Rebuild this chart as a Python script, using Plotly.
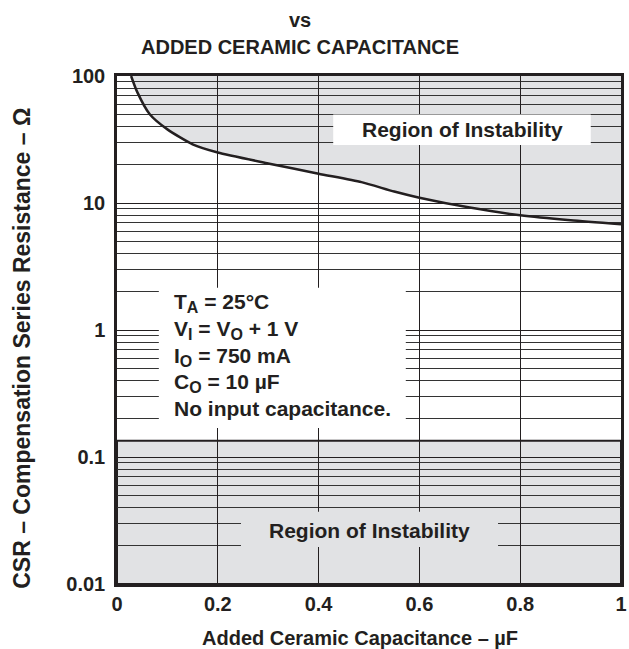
import plotly.graph_objects as go

# ---- data ----
cap_uF = [0.028, 0.04, 0.065, 0.1, 0.15, 0.2, 0.3, 0.4, 0.485, 0.55, 0.6, 0.7, 0.8, 0.9, 1.0]
csr_ohm = [100, 75, 50, 38, 29, 25, 20.5, 17, 14.6, 12.3, 11.0, 9.2, 8.0, 7.3, 6.8]
lower_limit_ohm = 0.134
y_range = [0.01, 100]
x_range = [0, 1]
x_ticks = [0, 0.2, 0.4, 0.6, 0.8, 1]
x_ticklabels = ["0", "0.2", "0.4", "0.6", "0.8", "1"]
y_ticks = [0.01, 0.1, 1, 10, 100]
y_ticklabels = ["0.01", "0.1", "1", "10", "100"]
SUB = "<sub><span style='font-size:16px'>{}</span></sub>"
conditions = ["T" + SUB.format("A") + " = 25°C",
              "V" + SUB.format("I") + " = V" + SUB.format("O") + " + 1 V",
              "I" + SUB.format("O") + " = 750 mA",
              "C" + SUB.format("O") + " = 10 µF",
              "No input capacitance."]
region_label = "Region of Instability"

FONT = "Liberation Sans, Arial, sans-serif"
INK = "#231f20"
GRAY = "#e1e2e4"

minor_vals = [m * 10 ** e for e in range(-2, 2) for m in range(2, 10)]

# upper unstable region polygon built from the curve
path = "M " + " L ".join(f"{x},{y}" for x, y in zip(cap_uF, csr_ohm))
path += f" L {x_range[1]},{y_range[1]} L {cap_uF[0]},{y_range[1]} Z"

fig = go.Figure()
fig.add_trace(go.Scatter(x=cap_uF, y=csr_ohm, mode="lines",
                         line=dict(color=INK, width=2.5, shape="spline", smoothing=0.6),
                         hoverinfo="skip", showlegend=False))

shapes = [
    dict(type="path", path=path, xref="x", yref="y", fillcolor=GRAY,
         line=dict(width=0), layer="below"),
    dict(type="rect", xref="x", yref="y", x0=x_range[0], x1=x_range[1],
         y0=y_range[0], y1=lower_limit_ohm, fillcolor=GRAY,
         line=dict(color=INK, width=2), layer="below"),
    dict(type="rect", xref="x domain", yref="y domain", x0=0.429, x1=0.94, y0=0.864, y1=0.924,
         fillcolor="white", line=dict(width=0), layer="above"),
    dict(type="rect", xref="x domain", yref="y domain", x0=0.083, x1=0.573, y0=0.307, y1=0.583,
         fillcolor="white", line=dict(width=0), layer="above"),
    dict(type="rect", xref="x domain", yref="y domain", x0=0.246, x1=0.756, y0=0.073, y1=0.142,
         fillcolor=GRAY, line=dict(width=0), layer="above"),
]

annotations = [
    dict(text=f"<b>{region_label}</b>", xref="x domain", yref="y domain", x=0.685, y=0.894,
         xanchor="center", yanchor="middle",
         showarrow=False, font=dict(family=FONT, size=21, color=INK)),
    dict(text=f"<b>{region_label}</b>", xref="x domain", yref="y domain", x=0.5, y=0.106,
         xanchor="center", yanchor="middle",
         showarrow=False, font=dict(family=FONT, size=21, color=INK)),
    dict(text="<b>vs</b>", xref="paper", yref="paper", x=0.363, y=1, yshift=56,
         xanchor="center", yanchor="middle", showarrow=False,
         font=dict(family=FONT, size=20, color=INK)),
    dict(text="<b>ADDED CERAMIC CAPACITANCE</b>", xref="paper", yref="paper", x=0.363, y=1,
         yshift=29, xanchor="center", yanchor="middle", showarrow=False,
         font=dict(family=FONT, size=20, color=INK)),
    dict(text="<b>Added Ceramic Capacitance – µF</b>", xref="paper", yref="paper", x=0.483, y=0,
         yshift=-54, xanchor="center", yanchor="middle", showarrow=False,
         font=dict(family=FONT, size=20, color=INK)),
    dict(text="<b>CSR – Compensation Series Resistance – Ω</b>", xref="paper", yref="paper",
         x=0, xshift=-95, y=0.463, textangle=-90, xanchor="center", yanchor="middle",
         showarrow=False, font=dict(family=FONT, size=23, color=INK)),
]
line_pos = [0.553, 0.5, 0.447, 0.396, 0.346]
for txt, yp in zip(conditions, line_pos):
    annotations.append(dict(text=f"<b>{txt}</b>", xref="x domain", yref="y domain",
                            x=0.109, y=yp, xanchor="left", yanchor="middle", align="left",
                            showarrow=False, font=dict(family=FONT, size=21, color=INK)))

fig.update_layout(
    width=629, height=649,
    margin=dict(l=117, r=8, t=76, b=65, autoexpand=False),
    paper_bgcolor="white", plot_bgcolor="white",
    shapes=shapes, annotations=annotations,
    xaxis=dict(range=x_range, tickvals=x_ticks, ticktext=[f"<b>{t}</b>" for t in x_ticklabels],
               showgrid=True, gridcolor=INK, gridwidth=1, zeroline=False, automargin=False,
               showline=True, linecolor=INK, linewidth=2.5, mirror=True, ticks="",
               tickfont=dict(family=FONT, size=20, color=INK)),
    yaxis=dict(type="log", range=[-2, 2], tickvals=y_ticks,
               ticktext=[f"<b>{t}</b>" for t in y_ticklabels],
               showgrid=True, gridcolor=INK, gridwidth=1, zeroline=False, automargin=False,
               minor=dict(tickvals=minor_vals, showgrid=True, gridcolor="#333", gridwidth=1, ticks=""),
               showline=True, linecolor=INK, linewidth=2.5, mirror=True, ticks="",
               ticklabelstandoff=5,
               tickfont=dict(family=FONT, size=20, color=INK)),
)

# remove the default 8px page margin so the figure fills the window exactly
fig.write_html("out.html", config={"displayModeBar": False},
               post_script="document.body.style.margin='0';document.body.style.overflow='hidden';")
